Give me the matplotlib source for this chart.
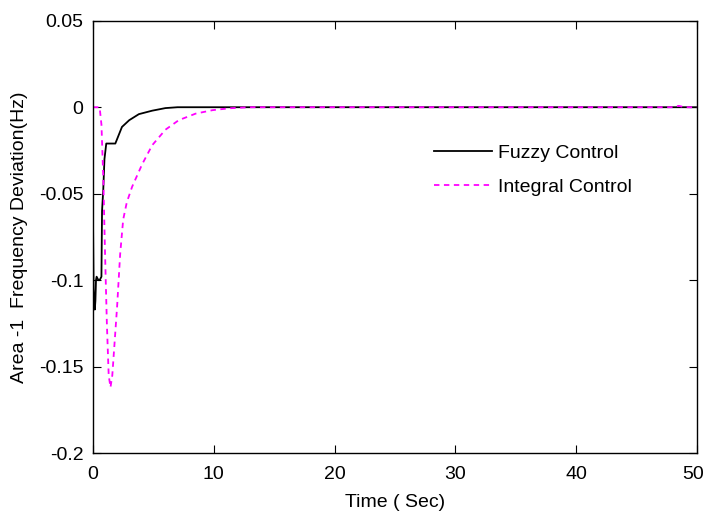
import matplotlib
matplotlib.use("Agg")
import matplotlib.pyplot as plt
from matplotlib.transforms import ScaledTranslation

plt.rcParams['font.family'] = ['Liberation Sans', 'DejaVu Sans']

# Fuzzy control response
t_fuzzy = [0, 0.05, 0.15, 0.2, 0.25, 0.3, 0.45, 0.55, 0.7, 0.75, 0.85, 0.95, 1.1, 1.85,
           2.4, 3.0, 3.8, 4.9, 6.0, 7.0, 50]
f_fuzzy = [-0.062, -0.105, -0.117, -0.112, -0.100, -0.098, -0.100, -0.100, -0.098, -0.060,
           -0.048, -0.030, -0.021, -0.021, -0.0114, -0.0075, -0.004, -0.002, -0.0005, 0, 0]

# Integral control response
t_int = [0, 0.55, 0.7, 0.85, 1.0, 1.15, 1.3, 1.45, 1.6, 1.8, 2.0, 2.25, 2.5, 2.8, 3.24,
         4.07, 4.9, 6.0, 7.1, 8.5, 9.9, 11.3, 13, 48, 48.5, 49, 50]
f_int = [0, 0, -0.01, -0.04, -0.085, -0.125, -0.155, -0.162, -0.155, -0.135, -0.115,
         -0.085, -0.065, -0.055, -0.046, -0.033, -0.022, -0.013, -0.0075, -0.0037,
         -0.0017, -0.0006, 0, 0, 0.0008, 0, 0]

xticks = [0, 10, 20, 30, 40, 50]
yticks = [-0.2, -0.15, -0.1, -0.05, 0, 0.05]
ytick_labels = ['-0.2', '-0.15', '-0.1', '-0.05', '0', '0.05']

fig = plt.figure(figsize=(7.06, 5.19), dpi=100)
ax = fig.add_axes([0.1317, 0.127, 0.8553, 0.833])

ax.plot(t_fuzzy, f_fuzzy, color='black', lw=1.3, label='Fuzzy Control')
ax.plot(t_int, f_int, color='#ff00ff', lw=1.3, ls=(0, (3, 2.5)), label='Integral Control')

ax.set_xlim(0, 50)
ax.set_ylim(-0.2, 0.05)
ax.set_xticks(xticks)
ax.set_xticklabels([str(v) for v in xticks])
ax.set_yticks(yticks)
ax.set_yticklabels(ytick_labels)
ax.tick_params(direction='in', length=6, top=True, right=True, labelsize=14)
ax.tick_params(axis='x', pad=9)
ax.tick_params(axis='y', pad=7)
for s in ax.spines.values():
    s.set_linewidth(1.0)

# keep last x tick label inside the canvas
last = ax.get_xticklabels()[-1]
last.set_transform(last.get_transform() + ScaledTranslation(-4 / 100, 0, fig.dpi_scale_trans))

ax.set_xlabel('Time ( Sec)', fontsize=14, labelpad=8)
ax.set_ylabel('Area -1  Frequency Deviation(Hz)', fontsize=14, labelpad=8)

leg = ax.legend(loc='upper left', bbox_to_anchor=(0.535, 0.755), frameon=False,
                fontsize=14, handlelength=3.0, handletextpad=0.3, labelspacing=0.85)

fig.savefig('out.png', dpi=100)
